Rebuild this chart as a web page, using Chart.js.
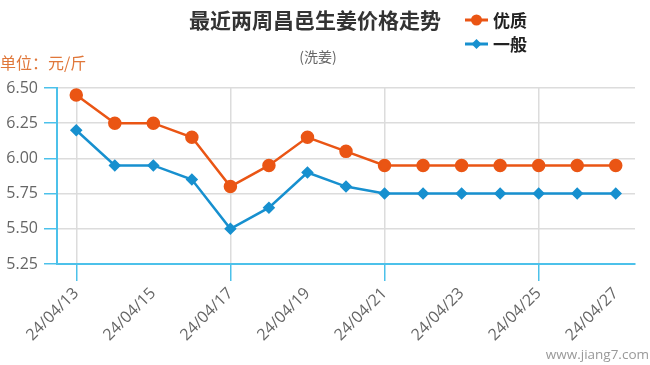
<!DOCTYPE html>
<html>
<head>
<meta charset="utf-8">
<script src="https://cdn.jsdelivr.net/npm/chart.js"></script>
<style>
  html, body { margin: 0; padding: 0; background: #fff; }
  #wrap { position: relative; width: 650px; height: 365px; }
</style>
</head>
<body>
<div id="wrap"><canvas id="grafico" width="650" height="365"></canvas></div>
<script>
// datos
const fechas = ["24/04/13", "24/04/14", "24/04/15", "24/04/16", "24/04/17", "24/04/18", "24/04/19",
    "24/04/20", "24/04/21", "24/04/22", "24/04/23", "24/04/24", "24/04/25", "24/04/26", "24/04/27"]
const youzhi = [6.45, 6.25, 6.25, 6.15, 5.80, 5.95, 6.15, 6.05, 5.95, 5.95, 5.95, 5.95, 5.95, 5.95, 5.95]
const yiban = [6.20, 5.95, 5.95, 5.85, 5.50, 5.65, 5.90, 5.80, 5.75, 5.75, 5.75, 5.75, 5.75, 5.75, 5.75]
const ticksY = [5.25, 5.50, 5.75, 6.00, 6.25, 6.50]

const naranja = '#ea5514'
const azul = '#1790cf'
const ejeAzul = '#4cc1ea'
const fuente = '"Open Sans", "Noto Sans CJK SC", sans-serif'

// textos fijos: titulo, subtitulo, unidad, leyenda y marca de agua
const textos = {
    id: 'textos',
    afterDraw(chart) {
        const ctx = chart.ctx
        ctx.save()
        ctx.textBaseline = 'middle'
        ctx.textAlign = 'center'
        ctx.fillStyle = '#333'
        ctx.font = 'bold 21px "Noto Sans CJK SC", sans-serif'
        ctx.fillText('最近两周昌邑生姜价格走势', 315, 20)
        ctx.fillStyle = '#666'
        ctx.font = '14px "Noto Sans CJK SC", sans-serif'
        ctx.fillText('(洗姜)', 318, 57)

        ctx.textAlign = 'left'
        ctx.fillStyle = '#e0773a'
        ctx.font = '16px "Noto Sans CJK SC", sans-serif'
        ctx.fillText('单位：元/斤', 0, 63)

        const leyenda = [['优质', naranja, 'circle', 20], ['一般', azul, 'rect', 44]]
        leyenda.forEach(([txt, color, forma, y]) => {
            ctx.strokeStyle = color
            ctx.fillStyle = color
            ctx.lineWidth = 3
            ctx.beginPath()
            ctx.moveTo(465, y)
            ctx.lineTo(488, y)
            ctx.stroke()
            ctx.beginPath()
            if (forma === 'circle') {
                ctx.arc(476.5, y, 5.5, 0, Math.PI * 2)
            } else {
                ctx.moveTo(476.5, y - 5); ctx.lineTo(481.5, y); ctx.lineTo(476.5, y + 5); ctx.lineTo(471.5, y)
                ctx.closePath()
            }
            ctx.fill()
            ctx.fillStyle = '#222'
            ctx.font = 'bold 17px "Noto Sans CJK SC", sans-serif'
            ctx.fillText(txt, 493, y + 1)
        })

        ctx.textAlign = 'right'
        ctx.fillStyle = '#999'
        ctx.font = '13.5px ' + fuente
        ctx.fillText('www.jiang7.com', 649, 355)
        ctx.restore()
    }
}

new Chart(document.getElementById('grafico'), {
    type: 'line',
    data: {
        labels: fechas,
        datasets: [
            {
                label: '优质',
                data: youzhi,
                borderColor: naranja,
                backgroundColor: naranja,
                borderWidth: 2.5,
                pointStyle: 'circle',
                pointRadius: 5.5,
                pointHoverRadius: 5.5,
                tension: 0
            },
            {
                label: '一般',
                data: yiban,
                borderColor: azul,
                backgroundColor: azul,
                borderWidth: 2.5,
                pointStyle: 'rectRot',
                pointRadius: 4.5,
                pointHoverRadius: 4.5,
                tension: 0
            }
        ]
    },
    options: {
        responsive: false,
        animation: false,
        layout: { padding: { top: 88, right: 15, left: 0, bottom: 0 } },
        plugins: {
            legend: { display: false },
            title: { display: false },
            tooltip: { enabled: false }
        },
        scales: {
            x: {
                offset: true,
                afterFit: (s) => { s.height = 101 },
                border: { color: ejeAzul, width: 2 },
                grid: {
                    offset: false,
                    color: (c) => c.index % 2 === 0 ? '#dcdcdc' : 'rgba(0,0,0,0)',
                    tickColor: (c) => c.index % 2 === 0 ? ejeAzul : 'rgba(0,0,0,0)',
                    tickLength: 17,
                    lineWidth: 1.5
                },
                ticks: {
                    autoSkip: false,
                    maxRotation: 45,
                    minRotation: 45,
                    padding: 3,
                    color: '#666',
                    font: { size: 16, family: fuente },
                    callback: function (v, i) { return i % 2 === 0 ? this.getLabelForValue(v) : null }
                }
            },
            y: {
                min: 5.25,
                max: 6.50,
                afterFit: (s) => { s.width = 57 },
                afterBuildTicks: (s) => { s.ticks = ticksY.map(v => ({ value: v })) },
                border: { color: ejeAzul, width: 2 },
                grid: {
                    color: '#dcdcdc',
                    tickColor: ejeAzul,
                    tickLength: 13,
                    lineWidth: 1.5
                },
                ticks: {
                    padding: 6,
                    color: '#666',
                    font: { size: 16, family: fuente },
                    callback: (v) => v.toFixed(2)
                }
            }
        }
    },
    plugins: [textos]
})
</script>
</body>
</html>
